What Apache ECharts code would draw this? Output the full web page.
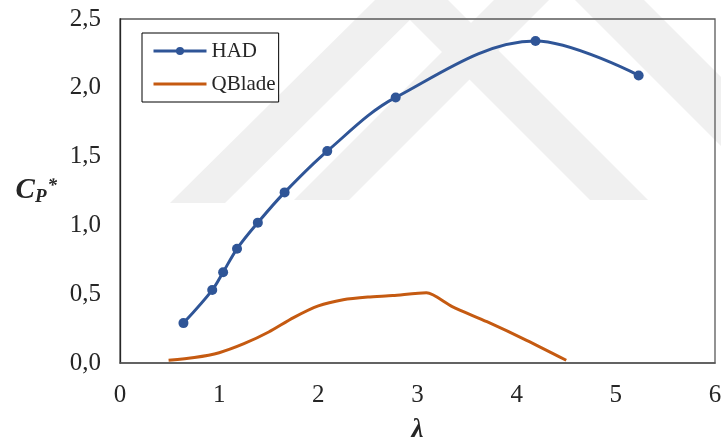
<!DOCTYPE html>
<html>
<head>
<meta charset="utf-8">
<script src="https://cdn.jsdelivr.net/npm/echarts@6/dist/echarts.min.js"></script>
<style>
  html, body { margin: 0; padding: 0; background: #fff; }
  #chart { width: 721px; height: 441px; }
</style>
</head>
<body>
<div id="chart"></div>
<script>
// Tip speed ratio (λ) and normalised power coefficient (Cp*) values
const hadLambda = [0.64, 0.93, 1.04, 1.18, 1.39, 1.66, 2.09, 2.78, 4.19, 5.23];
const hadCp     = [0.29, 0.53, 0.66, 0.83, 1.02, 1.24, 1.54, 1.93, 2.34, 2.09];

const qbladeLambda = [0.49, 0.75, 1.0, 1.25, 1.5, 1.75, 2.0, 2.25, 2.5, 2.75, 3.09, 3.35, 3.7, 4.1, 4.5];
const qbladeCp     = [0.02, 0.04, 0.075, 0.14, 0.225, 0.33, 0.415, 0.46, 0.48, 0.49, 0.51, 0.41, 0.30, 0.165, 0.02];

const xTicks = [0, 1, 2, 3, 4, 5, 6];
const yTicks = [0, 0.5, 1.0, 1.5, 2.0, 2.5];

const pairs = (xs, ys) => xs.map((x, i) => [x, ys[i]]);
const serif = '"Liberation Serif", "Times New Roman", serif';
const fmtComma = v => v.toFixed(1).replace('.', ',');

// Faint background stripes (document watermark)
const stripeFill = '#f0f0f0';
const stripes = [
  [[170, 203], [225, 203], [430, 0], [375, 0]],
  [[294, 200], [349, 200], [549, 0], [494, 0]],
  [[590, 200], [648, 200], [448, 0], [390, 0]],
  [[575, 0], [644, 0], [721, 77], [721, 146]]
].map(pts => ({
  type: 'polygon',
  z: -10,
  silent: true,
  shape: { points: pts },
  style: { fill: stripeFill }
}));

const chart = echarts.init(document.getElementById('chart'), null, { renderer: 'canvas' });

chart.setOption({
  animation: false,
  backgroundColor: '#ffffff',
  graphic: stripes,
  grid: {
    left: 120, right: 6, top: 19, bottom: 78,
    containLabel: false,
    outerBoundsMode: 'none',
    show: true,
    borderColor: '#595959',
    borderWidth: 1.3,
    backgroundColor: 'transparent'
  },
  legend: {
    orient: 'vertical',
    left: 142, top: 33,
    padding: [7, 3, 7, 10],
    itemGap: 11,
    itemWidth: 53,
    itemHeight: 10,
    borderColor: '#000',
    borderWidth: 1,
    backgroundColor: '#fff',
    lineStyle: { width: 3 },
    textStyle: { fontFamily: serif, fontSize: 21, color: '#262626', lineHeight: 22 },
    data: [
      'HAD',
      // plain line entry, no marker
      { name: 'QBlade', itemStyle: { opacity: 0 } }
    ]
  },
  xAxis: {
    type: 'value',
    min: xTicks[0], max: xTicks[xTicks.length - 1], interval: 1,
    name: 'λ',
    nameLocation: 'middle',
    nameGap: 54,
    nameTextStyle: { fontFamily: serif, fontSize: 27, fontWeight: 'bold', fontStyle: 'italic', color: '#262626' },
    axisLine: { show: true, onZero: false, lineStyle: { color: '#595959', width: 1.5 } },
    axisTick: { show: false },
    splitLine: { show: false },
    axisLabel: { margin: 20, fontFamily: serif, fontSize: 25, color: '#262626' }
  },
  yAxis: {
    type: 'value',
    min: yTicks[0], max: yTicks[yTicks.length - 1], interval: 0.5,
    name: '{c|C}{p|P}{s|*}',
    nameLocation: 'middle',
    nameRotate: 0,
    nameGap: 63,
    nameTextStyle: {
      color: '#262626',
      rich: {
        c: { fontFamily: serif, fontSize: 29, fontWeight: 'bold', fontStyle: 'italic', lineHeight: 36, verticalAlign: 'middle' },
        p: { fontFamily: serif, fontSize: 19, fontWeight: 'bold', fontStyle: 'italic', lineHeight: 36, verticalAlign: 'bottom', padding: [0, 0, 2, 0] },
        s: { fontFamily: serif, fontSize: 19, fontWeight: 'bold', fontStyle: 'italic', lineHeight: 36, verticalAlign: 'top', padding: [4, 0, 0, 1] }
      }
    },
    axisLine: { show: true, lineStyle: { color: '#262626', width: 1.3 } },
    axisTick: { show: false },
    splitLine: { show: false },
    axisLabel: { margin: 19, fontFamily: serif, fontSize: 25, color: '#262626', formatter: fmtComma }
  },
  series: [
    {
      name: 'HAD',
      type: 'line',
      data: pairs(hadLambda, hadCp),
      smooth: 0.35,
      symbol: 'circle',
      symbolSize: 10,
      showSymbol: true,
      itemStyle: { color: '#2F5597' },
      lineStyle: { color: '#2F5597', width: 3 },
      z: 3
    },
    {
      name: 'QBlade',
      type: 'line',
      data: pairs(qbladeLambda, qbladeCp),
      smooth: 0.25,
      symbol: 'none',
      showSymbol: false,
      itemStyle: { color: '#C55A11' },
      lineStyle: { color: '#C55A11', width: 3 },
      z: 2
    }
  ]
});
</script>
</body>
</html>
